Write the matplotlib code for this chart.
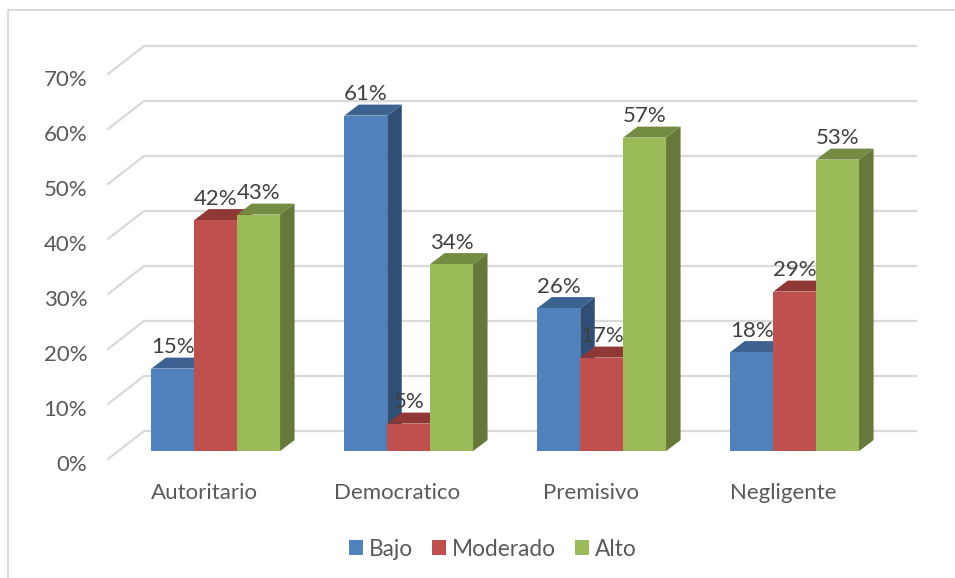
import matplotlib
matplotlib.use("Agg")
import matplotlib.pyplot as plt
from matplotlib.lines import Line2D
from matplotlib.patches import Polygon, Patch
from matplotlib.transforms import ScaledTranslation

categories = ["Autoritario", "Democratico", "Premisivo", "Negligente"]
series_names = ["Bajo", "Moderado", "Alto"]
bajo = [15, 61, 26, 18]
moderado = [42, 5, 17, 29]
alto = [43, 34, 57, 53]
y_ticks = [0, 10, 20, 30, 40, 50, 60, 70]

W, H = 955, 578
plt.rcParams["font.family"] = ["Lato", "DejaVu Sans"]
fig = plt.figure(figsize=(W / 100, H / 100), dpi=100, facecolor="white")
L, R, B, T = 108, 880, 459, 74
ax = fig.add_axes([L / W, 1 - B / H, (R - L) / W, (B - T) / H])
ax.set_xlim(-0.5, 3.5)
ax.set_ylim(0, 70)
ax.patch.set_visible(False)
for s in ax.spines.values():
    s.set_visible(False)

px_x = 4 / (R - L)
px_y = 70 / (B - T)
wall_dx, wall_dy = 36 * px_x, 28 * px_y      # depth of the floor
bar_dx, bar_dy = 14.5 * px_x, 11 * px_y      # depth of a bar
floor_y = 7.9 * px_y                         # front of the bars above the floor edge
bar_w = 42.9 * px_x
group_shift = 11.2 * px_x

grid_c = "#D9D9D9"
for v in y_ticks:
    ax.plot([-0.5, -0.5 + wall_dx, 3.5 + wall_dx], [v, v + wall_dy, v + wall_dy],
            color=grid_c, lw=1.6, clip_on=False, zorder=1, solid_joinstyle="miter")

styles = [("#4F81BD", "#3C6291", "#2F4F77"),
          ("#C0504D", "#8F3836", "#7F3433"),
          ("#9BBB59", "#748C42", "#66783A")]
data = [bajo, moderado, alto]

for c in range(len(categories)):
    for s, vals in enumerate(data):
        v = vals[c]
        x0 = c + group_shift + (s - 1.5) * bar_w
        x1 = x0 + bar_w
        y0 = floor_y
        y1 = floor_y + v
        front, top, side = styles[s]
        z = 3 + c * 3 + s * 0.1
        ax.add_patch(Polygon([(x1, y0), (x1 + bar_dx, y0 + bar_dy), (x1 + bar_dx, y1 + bar_dy), (x1, y1)],
                             closed=True, fc=side, ec="none", clip_on=False, zorder=z))
        ax.add_patch(Polygon([(x0, y1), (x0 + bar_dx, y1 + bar_dy), (x1 + bar_dx, y1 + bar_dy), (x1, y1)],
                             closed=True, fc=top, ec="none", clip_on=False, zorder=z))
        ax.bar(x0 + bar_w / 2, v, bar_w, bottom=y0, color=front, clip_on=False, zorder=z + 0.01)

label_off = 21.5 * px_y
for c in range(len(categories)):
    for s, vals in enumerate(data):
        v = vals[c]
        ax.text(c + group_shift + (s - 1) * bar_w, floor_y + v + label_off, f"{v}%",
                ha="center", va="center", fontsize=16, color="#404040", zorder=50, clip_on=False)

ax.set_yticks(y_ticks)
ax.set_yticklabels([f"{v}%" for v in y_ticks])
ax.set_xticks(range(len(categories)))
ax.set_xticklabels(categories)
ax.tick_params(axis="both", length=0, labelsize=16, labelcolor="#595959")
ax.tick_params(axis="y", pad=15)
ax.tick_params(axis="x", pad=17.5)
shift = ScaledTranslation(0, -3.7 / 100, fig.dpi_scale_trans)
for t in ax.get_yticklabels():
    t.set_transform(t.get_transform() + shift)

handles = [Patch(fc=st[0], ec="none") for st in styles]
fig.legend(handles, series_names, loc="center", bbox_to_anchor=(493 / W, 1 - 549 / H), ncol=3,
           frameon=False, fontsize=16.3, labelcolor="#595959", handlelength=0.62, handleheight=0.62,
           handletextpad=0.28, columnspacing=0.82, borderpad=0, borderaxespad=0)

fig.add_artist(Line2D([7.5 / W, 7.5 / W, 1], [0, 1 - 10 / H, 1 - 10 / H], color=grid_c, lw=1.3,
                      transform=fig.transFigure))
fig.savefig("out.png", dpi=100)
